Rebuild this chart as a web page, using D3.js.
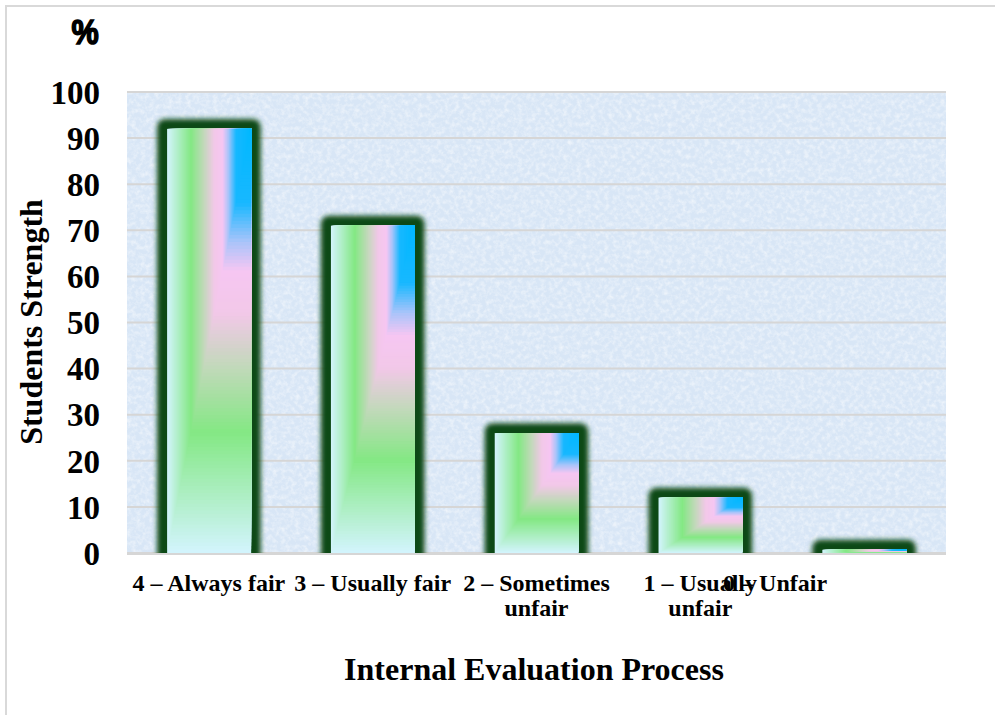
<!DOCTYPE html>
<html><head><meta charset="utf-8">
<script src="https://cdn.jsdelivr.net/npm/d3@7"></script>
<style>
html,body{margin:0;padding:0;background:#fff;}
svg{display:block;}
text{font-family:"Liberation Serif","Times New Roman",serif;font-weight:bold;fill:#000;}
</style></head>
<body>
<script>
// ---- data ----
const categories = ["4 – Always fair", "3 – Usually fair", "2 – Sometimes\nunfair", "1 – Usually\nunfair", "0 – Unfair"];
const values = [92, 71, 26, 12, 0.7];
const yTicks = [0, 10, 20, 30, 40, 50, 60, 70, 80, 90, 100];
const xTitle = "Internal Evaluation Process";
const yTitle = "Students Strength";
const unitLabel = "%";

const W = 995, H = 715;
const plot = {l: 127, r: 946, t: 92, b: 553};

const svg = d3.select("body").append("svg").attr("width", W).attr("height", H);
const defs = svg.append("defs");

// textured background filter
const tex = defs.append("filter").attr("id", "tex").attr("x", 0).attr("y", 0).attr("width", 1).attr("height", 1);
tex.append("feTurbulence").attr("type", "fractalNoise").attr("baseFrequency", 0.22).attr("numOctaves", 3).attr("seed", 7).attr("result", "n");
tex.append("feColorMatrix").attr("in", "n").attr("type", "matrix")
  .attr("values", "0 0 0 0 1  0 0 0 0 1  0 0 0 0 1  1.8 0 0 0 -0.7").attr("result", "w");
tex.append("feComposite").attr("in", "w").attr("in2", "SourceGraphic").attr("operator", "in");

// glow filter
const glow = defs.append("filter").attr("id", "glow").attr("x", "-50%").attr("y", "-50%").attr("width", "200%").attr("height", "200%");
glow.append("feGaussianBlur").attr("stdDeviation", 2.8);

defs.append("clipPath").attr("id", "plotclip").append("rect")
  .attr("x", plot.l - 40).attr("y", 0).attr("width", plot.r - plot.l + 80).attr("height", plot.b + 2);

// outer border
svg.append("rect").attr("x", 6).attr("y", 6).attr("width", W + 10).attr("height", H + 10)
  .attr("fill", "#fff").attr("stroke", "#d9d9d9").attr("stroke-width", 2);

const x = d3.scaleBand().domain(categories).range([plot.l, plot.r]).paddingInner(0.49).paddingOuter(0.245);
const y = d3.scaleLinear().domain([0, 100]).range([plot.b, plot.t]);

// background
svg.append("rect").attr("x", plot.l).attr("y", plot.t).attr("width", plot.r - plot.l).attr("height", plot.b - plot.t).attr("fill", "#d8e6f6");
svg.append("rect").attr("x", plot.l).attr("y", plot.t).attr("width", plot.r - plot.l).attr("height", plot.b - plot.t).attr("fill", "#fff").attr("filter", "url(#tex)").attr("opacity", 0.6);

// gridlines
svg.append("g").selectAll("line").data(yTicks).join("line")
  .attr("x1", plot.l).attr("x2", plot.r).attr("y1", d => y(d)).attr("y2", d => y(d))
  .attr("stroke", "#d6d6d6").attr("stroke-width", 2);

// y axis labels
const yAxis = d3.axisLeft(y).tickValues(yTicks).tickSize(0).tickPadding(0);
const yg = svg.append("g").attr("transform", `translate(${plot.l - 27},0)`).call(yAxis);
yg.select(".domain").remove();
yg.selectAll("text").style("font-size", "33px").style("font-family", "Liberation Serif").style("font-weight", "bold").attr("dy", "0.34em");

// rectangular gradient colors (t=0 top-right corner, t=1 left/bottom edge)
const gradColor = d3.scaleLinear()
  .domain([0, 0.18, 0.27, 0.34, 0.44, 0.56, 0.72, 1])
  .range(["#00b8ff", "#18b8ff", "#a8c4fa", "#f6c6f2", "#f2c8e8", "#c4d8bc", "#84e884", "#d2f4fc"])
  .interpolate(d3.interpolateRgb);
const steps = d3.range(1, 0, -1 / 120);

const bars = svg.append("g").attr("clip-path", "url(#plotclip)");
categories.forEach((c, i) => {
  const bx = x(c), bw = x.bandwidth(), by = y(values[i]), bh = plot.b - by;
  const g = bars.append("g");
  g.append("rect").attr("x", bx - 10).attr("y", by - 10).attr("width", bw + 20).attr("height", bh + 20)
    .attr("rx", 8).attr("fill", "#0f4a16").attr("filter", "url(#glow)");
  g.selectAll("rect.s").data(steps).join("rect").attr("class", "s")
    .attr("x", s => bx + bw * (1 - s)).attr("y", by)
    .attr("width", s => bw * s + 0.5).attr("height", s => Math.max(0, bh * s))
    .attr("fill", s => gradColor(s));
});

// baseline
svg.append("line").attr("x1", plot.l).attr("x2", plot.r).attr("y1", plot.b + 1).attr("y2", plot.b + 1)
  .attr("stroke", "#d6d6d6").attr("stroke-width", 2);

// category labels
const catG = svg.append("g");
categories.forEach((c, i) => {
  const cx = x(c) + x.bandwidth() / 2 + (i === categories.length - 1 ? -89 : 0);
  const t = catG.append("text").attr("x", cx).attr("y", 591).attr("text-anchor", "middle").style("font-size", "24px");
  c.split("\n").forEach((line, k) => {
    t.append("tspan").attr("x", cx).attr("dy", k === 0 ? 0 : 25).text(line);
  });
});

// axis titles
svg.append("text").attr("x", 534).attr("y", 680).attr("text-anchor", "middle").style("font-size", "32px").text(xTitle);
svg.append("text").attr("transform", "translate(42,322) rotate(-90)").attr("text-anchor", "middle").style("font-size", "32px").text(yTitle);
svg.append("text").attr("x", 85).attr("y", 44).attr("text-anchor", "middle")
  .style("font-family", "'Liberation Sans',Arial,sans-serif").style("font-size", "36px").style("font-weight", "bold")
  .attr("transform", "translate(85,0) scale(0.85,1) translate(-85,0)")
  .style("stroke", "#000").style("stroke-width", 1.6).text(unitLabel);
</script>
</body></html>
